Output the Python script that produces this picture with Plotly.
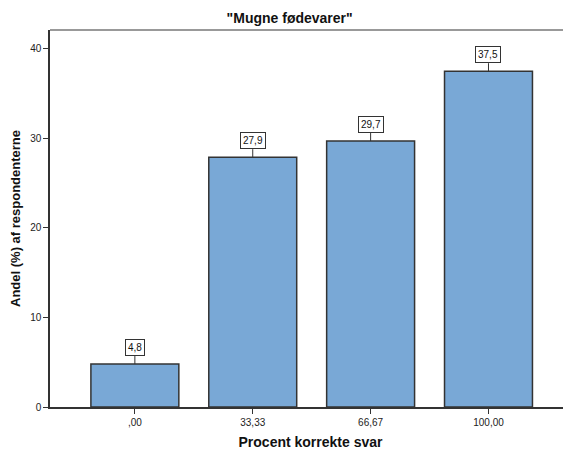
import plotly.graph_objects as go

categories = [",00", "33,33", "66,67", "100,00"]
values = [4.8, 27.9, 29.7, 37.5]
value_labels = ["4,8", "27,9", "29,7", "37,5"]
y_ticks = [0, 10, 20, 30, 40]

fig = go.Figure()
fig.add_trace(go.Bar(
    x=categories, y=values,
    marker=dict(color="#79A8D6", line=dict(color="#333333", width=1.5)),
    width=0.746,
))

for c, v, t in zip(categories, values, value_labels):
    fig.add_annotation(
        x=c, y=v, text=t, showarrow=True, arrowhead=0, arrowwidth=1,
        arrowcolor="#333333", ax=0, ay=-8, bgcolor="white",
        bordercolor="#333333", borderwidth=1, borderpad=2,
        font=dict(size=10, color="#111111", family="Arial"),
        yanchor="bottom",
    )

fig.update_layout(
    width=571, height=454,
    margin=dict(l=42, r=8, t=22, b=55),
    plot_bgcolor="white", paper_bgcolor="white",
    showlegend=False,
    title=dict(text='"Mugne fødevarer"', x=0.46, xref="paper", xanchor="center",
               y=0.978, yanchor="middle",
               font=dict(size=14, family="Arial", color="#111111", weight="bold")),
    xaxis=dict(
        type="category", range=[-0.72, 3.70], automargin=False,
        showline=True, linecolor="#333333", linewidth=1.5,
        ticks="outside", ticklen=5, tickcolor="#333333",
        tickfont=dict(size=10, family="Arial", color="#222222"),
        title=dict(text="Procent korrekte svar", standoff=10,
                   font=dict(size=14, family="Arial", color="#111111", weight="bold")),
        mirror=False,
    ),
    yaxis=dict(
        range=[0, 42.1], tickvals=y_ticks, automargin=False,
        showline=True, linecolor="#333333", linewidth=1.5,
        ticks="outside", ticklen=5, tickcolor="#333333",
        showgrid=False, zeroline=False,
        tickfont=dict(size=10, family="Arial", color="#222222"),
        title=dict(text="Andel (%) af respondenterne", standoff=8,
                   font=dict(size=13, family="Arial", color="#111111", weight="bold")),
    ),
)
fig.add_shape(type="line", xref="paper", yref="paper", x0=0, x1=1, y0=1, y1=1,
              line=dict(color="#777777", width=1.5))

fig.write_html("out.html")
